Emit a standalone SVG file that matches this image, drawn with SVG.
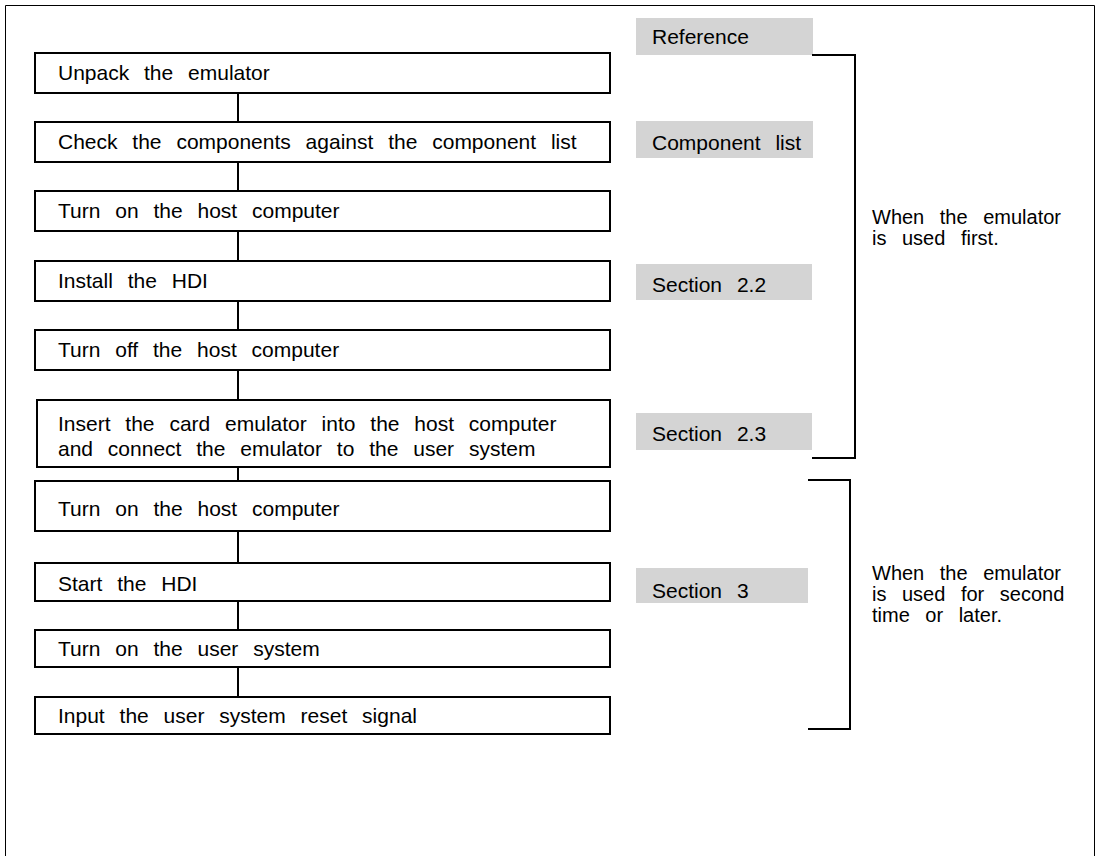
<svg xmlns="http://www.w3.org/2000/svg" width="1097" height="856" viewBox="0 0 1097 856">
  <style>
    .step { fill: #ffffff; stroke: #000000; stroke-width: 2; }
    .ref { fill: #d4d4d4; stroke: none; }
    .link { stroke: #000000; stroke-width: 2; fill: none; }
    .bracket { stroke: #000000; stroke-width: 2; fill: none; }
    text { font-family: "Liberation Sans", Arial, sans-serif; font-size: 21px; fill: #000000; word-spacing: 9px; }
    .note { font-size: 20px; word-spacing: 10px; }
  </style>

  <!-- outer frame (open at the bottom) -->
  <path d="M5.5,856 V5.5 H1094.5 V856" fill="none" stroke="#000" stroke-width="1"/>

  <!-- connectors between steps -->
  <g id="connectors">
    <line class="link" x1="238" y1="93" x2="238" y2="122"/>
    <line class="link" x1="238" y1="162" x2="238" y2="191"/>
    <line class="link" x1="238" y1="231" x2="238" y2="261"/>
    <line class="link" x1="238" y1="301" x2="238" y2="330"/>
    <line class="link" x1="238" y1="370" x2="238" y2="400"/>
    <line class="link" x1="238" y1="467" x2="238" y2="481"/>
    <line class="link" x1="238" y1="531" x2="238" y2="563"/>
    <line class="link" x1="238" y1="601" x2="238" y2="630"/>
    <line class="link" x1="238" y1="667" x2="238" y2="697"/>
  </g>

  <!-- flow steps -->
  <g id="step1"><rect class="step" x="35" y="53" width="575" height="40"/><text x="58" y="80">Unpack the emulator</text></g>
  <g id="step2"><rect class="step" x="35" y="122" width="575" height="40"/><text x="58" y="149">Check the components against the component list</text></g>
  <g id="step3"><rect class="step" x="35" y="191" width="575" height="40"/><text x="58" y="218">Turn on the host computer</text></g>
  <g id="step4"><rect class="step" x="35" y="261" width="575" height="40"/><text x="58" y="288">Install the HDI</text></g>
  <g id="step5"><rect class="step" x="35" y="330" width="575" height="40"/><text x="58" y="357">Turn off the host computer</text></g>
  <g id="step6"><rect class="step" x="37" y="400" width="573" height="67"/><text x="58" y="431">Insert the card emulator into the host computer</text><text x="58" y="456">and connect the emulator to the user system</text></g>
  <g id="step7"><rect class="step" x="35" y="481" width="575" height="50"/><text x="58" y="516">Turn on the host computer</text></g>
  <g id="step8"><rect class="step" x="35" y="563" width="575" height="38"/><text x="58" y="591">Start the HDI</text></g>
  <g id="step9"><rect class="step" x="35" y="630" width="575" height="37"/><text x="58" y="656">Turn on the user system</text></g>
  <g id="step10"><rect class="step" x="35" y="697" width="575" height="37"/><text x="58" y="723">Input the user system reset signal</text></g>

  <!-- reference column -->
  <g id="ref-header"><rect class="ref" x="636" y="18" width="177" height="37"/><text x="652" y="44">Reference</text></g>
  <g id="ref-components"><rect class="ref" x="636" y="121" width="177" height="37"/><text x="652" y="150">Component list</text></g>
  <g id="ref-s22"><rect class="ref" x="636" y="264" width="176" height="36"/><text x="652" y="292">Section 2.2</text></g>
  <g id="ref-s23"><rect class="ref" x="636" y="413" width="176" height="37"/><text x="652" y="441">Section 2.3</text></g>
  <g id="ref-s3"><rect class="ref" x="636" y="568" width="172" height="35"/><text x="652" y="598">Section 3</text></g>

  <!-- grouping brackets with their notes -->
  <g id="group-first">
    <path class="bracket" d="M812,55 H855 V458 H812"/>
    <text class="note" x="872" y="224">When the emulator</text>
    <text class="note" x="872" y="245">is used first.</text>
  </g>
  <g id="group-later">
    <path class="bracket" d="M808,480 H850 V729 H808"/>
    <text class="note" x="872" y="580">When the emulator</text>
    <text class="note" x="872" y="601">is used for second</text>
    <text class="note" x="872" y="622">time or later.</text>
  </g>
</svg>
